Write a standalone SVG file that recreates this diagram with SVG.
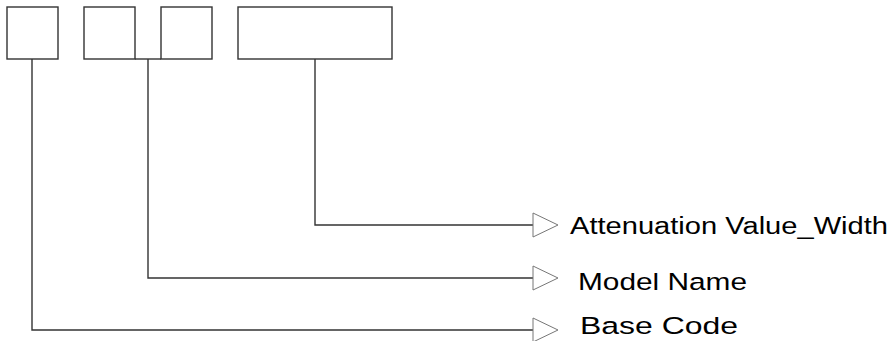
<svg xmlns="http://www.w3.org/2000/svg" width="892" height="341" viewBox="0 0 892 341">
<style>
.box{fill:#fff;stroke:#333;stroke-width:1.4}
.ln{fill:none;stroke:#333;stroke-width:1.4}
.tri{fill:#fff;stroke:#777;stroke-width:1}
.lbl{font-family:"Liberation Sans",Arial,sans-serif;font-size:23px;fill:#000}
.big{font-size:24.5px}
</style>
<rect width="892" height="341" fill="#fff"/>
<g id="box-base"><rect class="box" x="7" y="7" width="51" height="52"/></g>
<g id="box-model-1"><rect class="box" x="84" y="7" width="51" height="52"/></g>
<g id="box-model-2"><rect class="box" x="161" y="7" width="51" height="52"/></g>
<g id="box-atten"><rect class="box" x="238" y="7" width="154" height="52"/></g>
<g id="connectors">
<path class="ln" d="M135 59H161"/>
<path class="ln" d="M315 59V225H533"/>
<path class="ln" d="M148 59V278H533"/>
<path class="ln" d="M32 59V330H533"/>
<path class="tri" d="M533 213L558 225L533 237Z"/>
<path class="tri" d="M533 266L558 278L533 290Z"/>
<path class="tri" d="M533 318L558 330L533 342Z"/>
</g>
<g id="label-atten"><text class="lbl" x="570" y="234" textLength="318" lengthAdjust="spacingAndGlyphs">Attenuation Value_Width</text></g>
<g id="label-model"><text class="lbl big" x="578" y="290" textLength="169" lengthAdjust="spacingAndGlyphs">Model Name</text></g>
<g id="label-base"><text class="lbl big" x="580" y="334" textLength="158" lengthAdjust="spacingAndGlyphs">Base Code</text></g>
</svg>
